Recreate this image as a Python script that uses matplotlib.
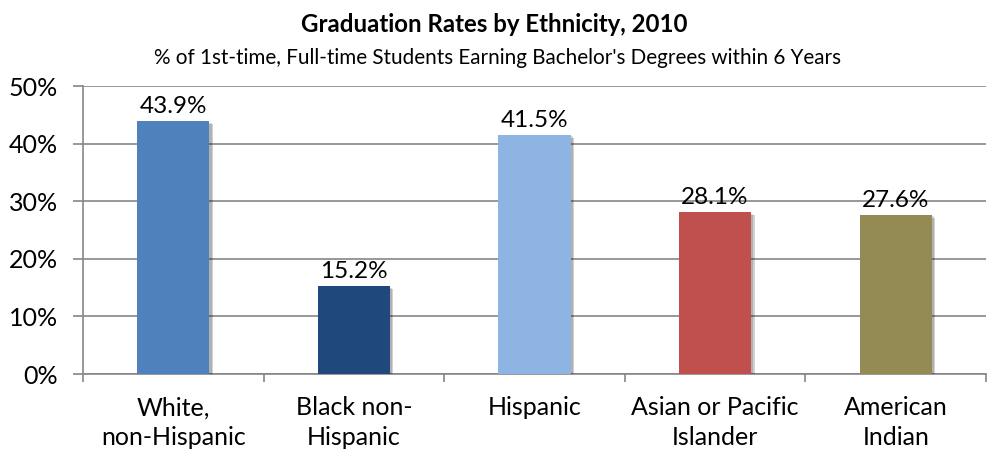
import matplotlib
matplotlib.use("Agg")
import matplotlib.pyplot as plt
import matplotlib.patheffects as pe
from matplotlib.ticker import FuncFormatter

categories = ["White,\nnon-Hispanic", "Black non-\nHispanic", "Hispanic",
              "Asian or Pacific\nIslander", "American\nIndian"]
rates = [43.9, 15.2, 41.5, 28.1, 27.6]
labels = ["43.9%", "15.2%", "41.5%", "28.1%", "27.6%"]
colors = ["#4F81BD", "#1F497D", "#8EB4E3", "#C0504D", "#948A54"]
yticks = [0, 10, 20, 30, 40, 50]

plt.rcParams['font.family'] = ['Lato', 'DejaVu Sans']

fig = plt.figure(figsize=(9.93, 4.51), dpi=100)
ax = fig.add_axes([83/993, 1-374/451, (986-83)/993, (374-86)/451])

x = list(range(len(categories)))
bars = ax.bar(x, rates, width=0.4, color=colors, zorder=3)
for b in bars:
    b.set_path_effects([pe.SimplePatchShadow(offset=(2.5, -2), shadow_rgbFace='#000000', alpha=0.18),
                        pe.SimplePatchShadow(offset=(1.5, -1), shadow_rgbFace='#000000', alpha=0.15),
                        pe.Normal()])
for xi, v, t in zip(x, rates, labels):
    ax.annotate(t, (xi, v), xytext=(0, 3), textcoords='offset points',
                ha='center', va='bottom', fontsize=17.5, color='#000000')

ax.set_xlim(-0.5, len(categories) - 0.5)
ax.set_ylim(0, 50)
ax.set_yticks(yticks)
ax.yaxis.set_major_formatter(FuncFormatter(lambda v, p: f"{v:.0f}%"))
ax.grid(axis='y', color='#868686', linewidth=1.2, zorder=0)
ax.set_axisbelow(True)

ax.set_xticks(x)
ax.set_xticklabels(categories, fontsize=18, linespacing=1.38)
ax.set_xticks([i - 0.5 for i in range(len(categories) + 1)], minor=True)
ax.tick_params(axis='x', which='major', length=0, pad=16)
ax.tick_params(axis='x', which='minor', length=6, width=1.2, color='#868686', direction='out')
ax.tick_params(axis='y', length=7, width=1.2, color='#868686', labelsize=18, pad=11)

for s in ['top', 'right']:
    ax.spines[s].set_visible(False)
for s in ['left', 'bottom']:
    ax.spines[s].set_color('#868686')
    ax.spines[s].set_linewidth(1.2)

fig.text(494/993, 1-24/451, "Graduation Rates by Ethnicity, 2010", ha='center', va='center',
         fontsize=17.3, fontweight='bold')
fig.text(497/993, 1-58/451, "% of 1st-time, Full-time Students Earning Bachelor's Degrees within 6 Years",
         ha='center', va='center', fontsize=14.9)

fig.savefig("out.png", dpi=100)
